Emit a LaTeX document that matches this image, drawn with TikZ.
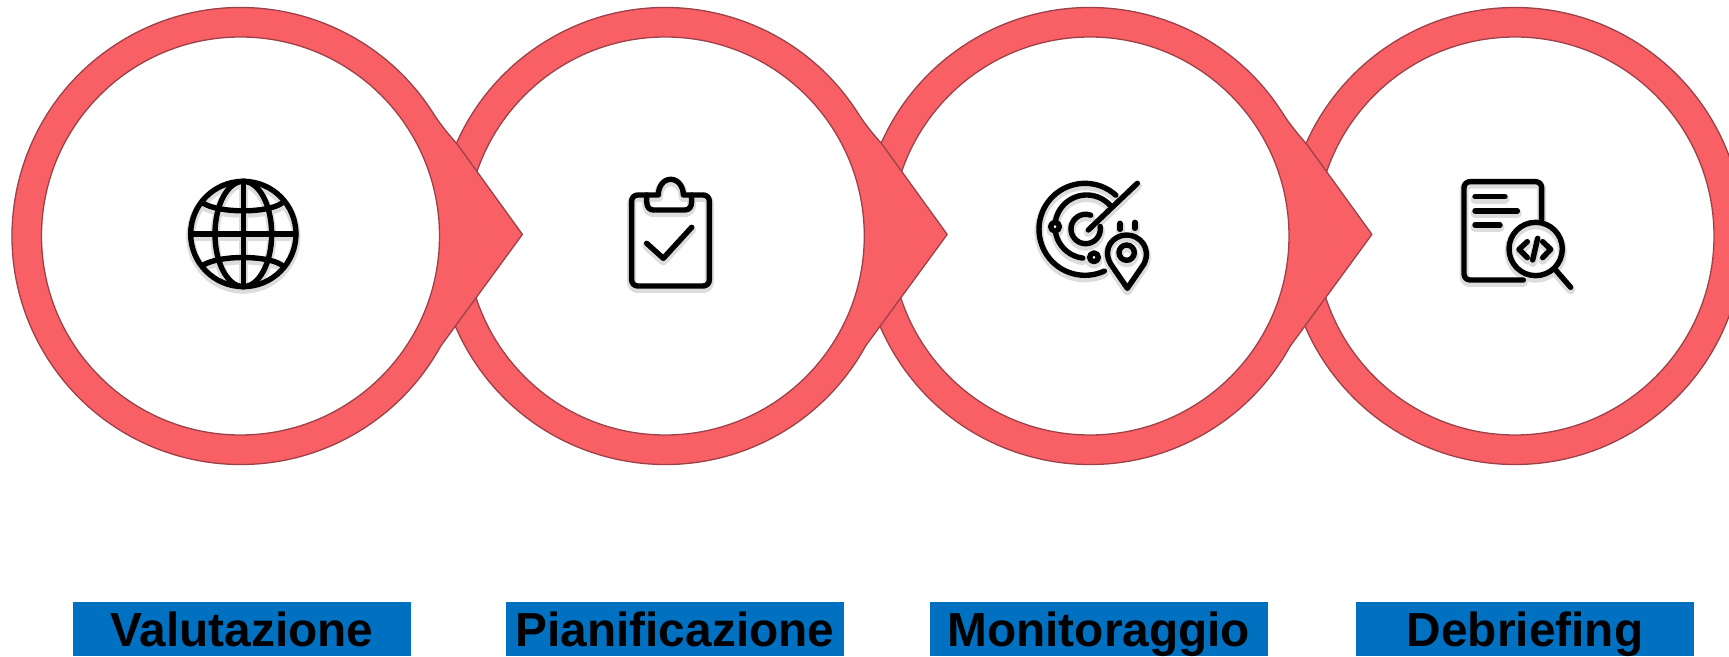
\documentclass[tikz,border=0pt]{standalone}
\usepackage{fontspec}
\setmainfont{Liberation Sans}
\definecolor{ringred}{HTML}{F86065}
\definecolor{ringedge}{HTML}{9E4048}
\definecolor{barblue}{HTML}{0070C0}
\definecolor{iconshade}{HTML}{DCDCDC}
\tikzset{
  ringstyle/.style={fill=ringred,draw=ringedge,line width=1.3pt,line join=round},
  holestyle/.style={fill=white,draw=ringedge,line width=1.3pt},
  barlabel/.style={fill=barblue,text=black,anchor=base,minimum width=338pt,inner xsep=0pt,inner ysep=0pt,
    text height=44.8pt,text depth=9.6pt,font=\bfseries\fontsize{47.8pt}{48pt}\selectfont},
  shadeline/.style={draw=iconshade,line width=9pt,line cap=round,line join=round},
  inkline/.style={draw=black,line width=5.4pt,line cap=round,line join=round},
  whitefill/.style={fill=white}
}
\newcommand{\arrowring}[1]{%
  \path[ringstyle,shift={(#1,420)}] (33:228.5) arc[start angle=33,end angle=331.2,radius=228.5]
    -- (281.9,1.6) -- (216.8,91.7) .. controls (206,104) and (198,114) .. (33:228.5) -- cycle;
  \path[holestyle,shift={(#1,420)}] (0,0) circle[radius=199];}
\newcommand{\iconrun}[3]{%
  \begin{scope}[shift={(#1,{656-#2-2.5})},x=0.3333pt,y=-0.3333pt,every path/.append style={shadeline}]#3\end{scope}
  \begin{scope}[shift={(#1,{656-#2})},x=0.3333pt,y=-0.3333pt,every path/.append style={inkline}]#3\end{scope}}
\begin{document}
\begin{tikzpicture}[x=1pt,y=1pt]
\useasboundingbox (0,0) rectangle (1729,656);
\fill[white] (0,0) rectangle (1729,656);
% rings, last first
\path[ringstyle,shift={(1515,420)}] (0,0) circle[radius=228.5];
\path[holestyle,shift={(1515,420)}] (0,0) circle[radius=199];
\arrowring{1090}
\arrowring{665.3}
\arrowring{240.5}
% globe
\iconrun{160}{160}{
  \path (250,222) circle[radius=158];
  \path (250,222) ellipse[x radius=85,y radius=158];
  \path (250,64) -- (250,380);
  \path (92,222) -- (408,222);
  \path (130,130) .. controls (180,160) and (320,160) .. (365,130);
  \path (130,315) .. controls (180,285) and (320,285) .. (365,315);
}
% clipboard
\iconrun{600}{160}{
  \path[rounded corners=6pt] (140,105) -- (95,105) -- (95,378) -- (328,378) -- (328,105) -- (275,105);
  \path (140,105) -- (140,125) .. controls (140,143) and (150,150) .. (160,150) -- (255,150) .. controls (268,150) and (275,140) .. (275,125) -- (275,105) -- (250,105)
     .. controls (250,80) and (235,58) .. (212,58) .. controls (190,58) and (175,80) .. (175,105) -- (140,105);
  \path (140,250) -- (190,295) -- (275,202);
}
% radar
\iconrun{1020}{160}{
  \path plot[domain=-295:-48,samples=50] ({195+138*cos(\x)},{208+138*sin(\x)});
  \path plot[domain=-263:-43,samples=50] ({200+95*cos(\x)},{200+95*sin(\x)});
  \path plot[domain=-10:290,samples=50] ({197+44*cos(\x)},{207+44*sin(\x)});
  \path (205,210) -- (352,70);
  \path[whitefill] (105,200) circle[radius=13];
  \path[whitefill] (222,292) circle[radius=13];
  \path (322,385) -- (272,312) .. controls (245,265) and (280,225) .. (320,225) .. controls (360,225) and (395,265) .. (372,312) -- cycle;
  \path (320,278) circle[radius=23];
  \path (300,190) -- (300,208);
  \path (345,187) -- (345,205);
}
% document with lens
\iconrun{1440}{160}{
  \path[rounded corners=6pt] (305,180) -- (305,65) -- (72,65) -- (72,360) -- (250,360);
  \path (105,110) -- (195,110);
  \path (105,153) -- (232,153);
  \path (105,195) -- (180,195);
  \path (287,267) circle[radius=80];
  \path (262,245) -- (237,268) -- (262,293);
  \path (308,245) -- (332,268) -- (308,293);
  \path (293,235) -- (278,300);
  \path (345,328) -- (392,382);
}
% labels
\node[barlabel] (valutazione) at (241.8,9.6) {Valutazione};
\node[barlabel] (pianificazione) at (674.9,9.6) {Pianificazione};
\node[barlabel] (monitoraggio) at (1098.8,9.6) {Monitoraggio};
\node[barlabel] (debriefing) at (1525,9.6) {Debriefing};
\end{tikzpicture}
\end{document}
